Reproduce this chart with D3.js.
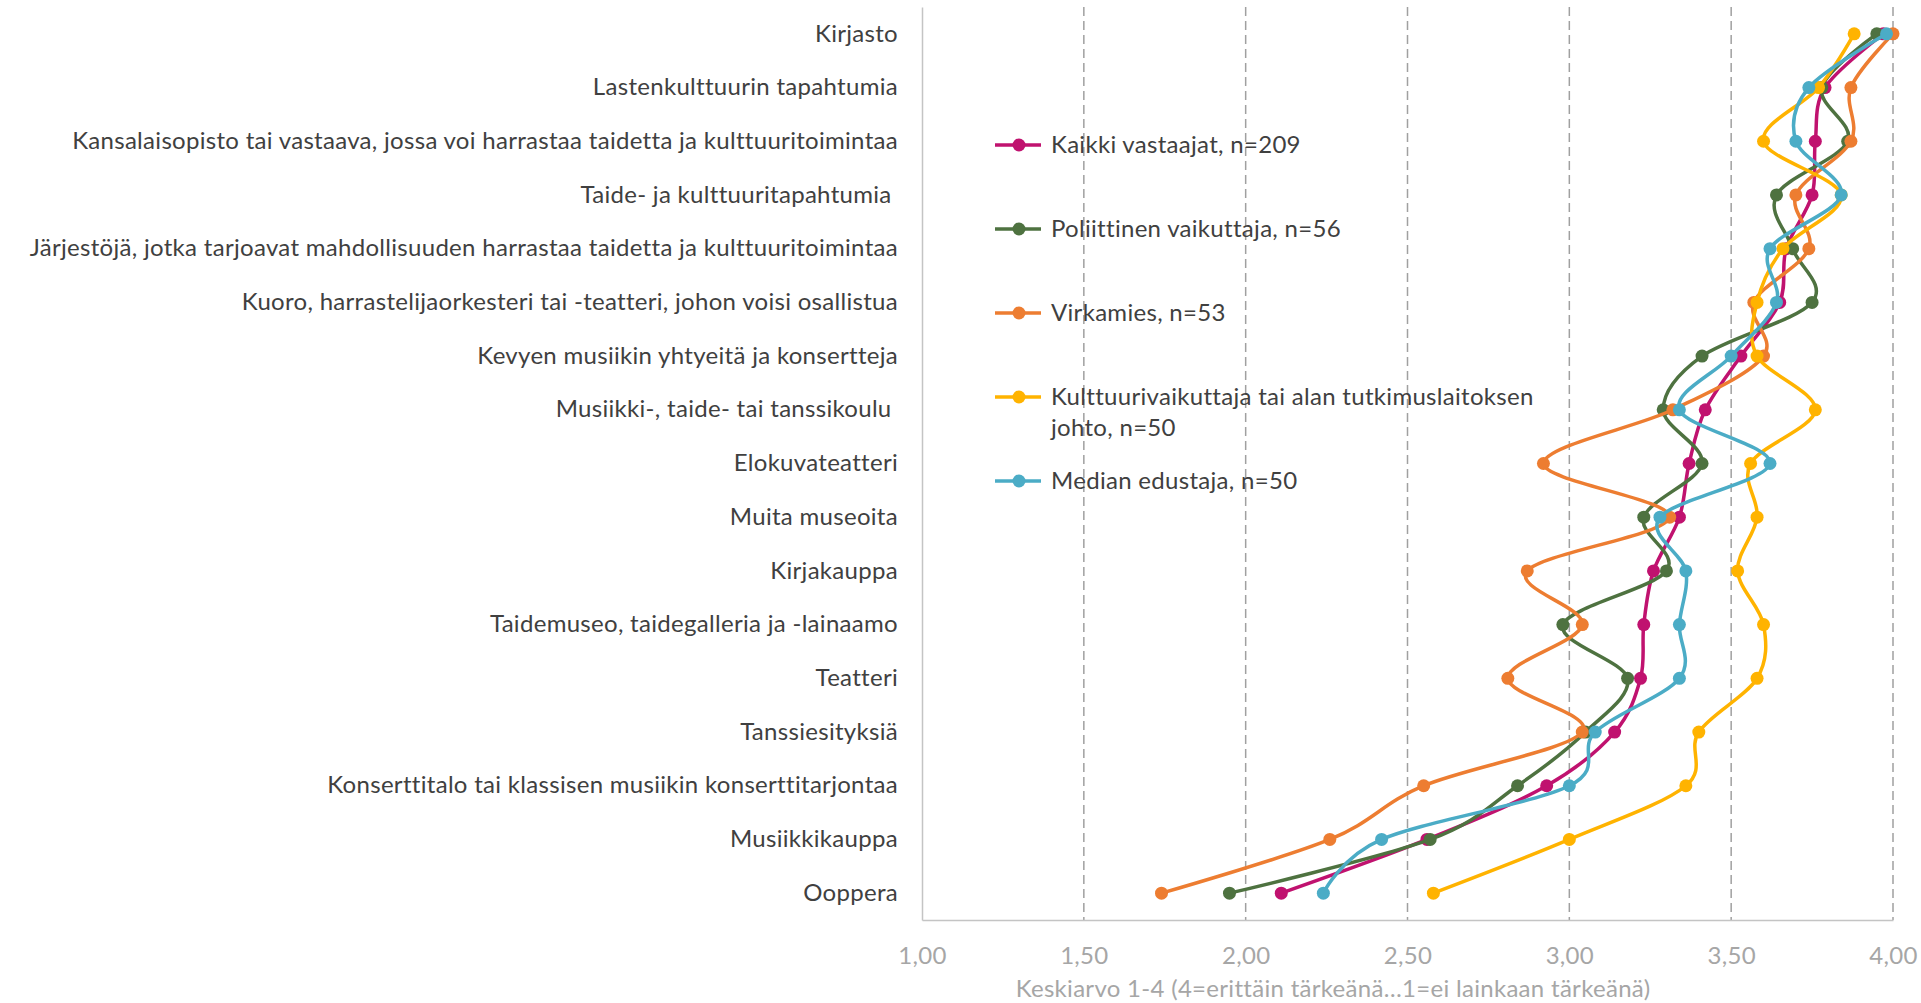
<!DOCTYPE html>
<html lang="fi">
<head>
<meta charset="utf-8">
<title>Kulttuuripalvelujen tärkeys</title>
<script src="https://cdn.jsdelivr.net/npm/d3@7"></script>
<style>
	body { margin: 0; background: #fff; }
	svg text { font-family: Lato, "Open Sans", sans-serif; letter-spacing: 0.3px; }
</style>
</head>
<body>
<script>
// categories, top to bottom
var categories = [
	"Kirjasto",
	"Lastenkulttuurin tapahtumia",
	"Kansalaisopisto tai vastaava, jossa voi harrastaa taidetta ja kulttuuritoimintaa",
	"Taide- ja kulttuuritapahtumia ",
	"Järjestöjä, jotka tarjoavat mahdollisuuden harrastaa taidetta ja kulttuuritoimintaa",
	"Kuoro, harrastelijaorkesteri tai -teatteri, johon voisi osallistua",
	"Kevyen musiikin yhtyeitä ja konsertteja",
	"Musiikki-, taide- tai tanssikoulu ",
	"Elokuvateatteri",
	"Muita museoita",
	"Kirjakauppa",
	"Taidemuseo, taidegalleria ja -lainaamo",
	"Teatteri",
	"Tanssiesityksiä",
	"Konserttitalo tai klassisen musiikin konserttitarjontaa",
	"Musiikkikauppa",
	"Ooppera"
];

// series values (keskiarvo 1-4), same order as categories
var kaikki      = [3.97, 3.79, 3.76, 3.75, 3.67, 3.65, 3.53, 3.42, 3.37, 3.34, 3.26, 3.23, 3.22, 3.14, 2.93, 2.56, 2.11];
var poliittinen = [3.95, 3.78, 3.86, 3.64, 3.69, 3.75, 3.41, 3.29, 3.41, 3.23, 3.30, 2.98, 3.18, 3.05, 2.84, 2.57, 1.95];
var virkamies   = [4.00, 3.87, 3.87, 3.70, 3.74, 3.57, 3.60, 3.32, 2.92, 3.31, 2.87, 3.04, 2.81, 3.04, 2.55, 2.26, 1.74];
var kulttuuri   = [3.88, 3.77, 3.60, 3.84, 3.66, 3.58, 3.58, 3.76, 3.56, 3.58, 3.52, 3.60, 3.58, 3.40, 3.36, 3.00, 2.58];
var media       = [3.98, 3.74, 3.70, 3.84, 3.62, 3.64, 3.50, 3.34, 3.62, 3.28, 3.36, 3.34, 3.34, 3.08, 3.00, 2.42, 2.24];

// legend labels (one entry per line of text)
var seriesLabels = [
	["Kaikki vastaajat, n=209"],
	["Poliittinen vaikuttaja, n=56"],
	["Virkamies, n=53"],
	["Kulttuurivaikuttaja tai alan tutkimuslaitoksen", "johto, n=50"],
	["Median edustaja, n=50"]
];
var seriesColors = ["#c0126f", "#4e7240", "#ed7d31", "#ffb300", "#4bacc6"];

var xTicks = [1, 1.5, 2, 2.5, 3, 3.5, 4];
var axisTitle = "Keskiarvo 1-4 (4=erittäin tärkeänä…1=ei lainkaan tärkeänä)";

var allSeries = [kaikki, poliittinen, virkamies, kulttuuri, media];

//Width and height of svg
var w = 1921;
var h = 1003;
var margin = {top: 7, right: 28, bottom: 83, left: 922};
var r = 6.5;
var fontSize = "24px";

var svg = d3.select("body")
	.append("svg")
	.attr("width", w)
	.attr("height", h);

svg.append("rect")
	.attr("width", w)
	.attr("height", h)
	.attr("fill", "#fff");

//Create scale functions
var xScale = d3.scaleLinear()
	.domain([1, 4])
	.range([margin.left, w - margin.right]);

var yScale = d3.scaleBand()
	.domain(categories)
	.range([margin.top, h - margin.bottom]);

var yMid = function(c) { return yScale(c) + yScale.bandwidth() / 2; };

// dashed gridlines
svg.append("g")
	.selectAll("line")
	.data(xTicks.slice(1))
	.enter()
	.append("line")
	.attr("x1", function(d) { return xScale(d); })
	.attr("x2", function(d) { return xScale(d); })
	.attr("y1", margin.top)
	.attr("y2", h - margin.bottom)
	.attr("stroke", "#a0a0a0")
	.attr("stroke-width", 1.5)
	.attr("stroke-dasharray", "9,5");

//X axis
var xAxis = d3.axisBottom(xScale)
	.tickValues(xTicks)
	.tickSize(0)
	.tickPadding(27)
	.tickFormat(function(d) { return d3.format(".2f")(d).replace(".", ","); });

var gx = svg.append("g")
	.attr("transform", "translate(0," + (h - margin.bottom) + ")")
	.call(xAxis);
gx.select(".domain").attr("stroke", "#c4c4c4").attr("stroke-width", 1.5);
gx.selectAll("text")
	.attr("fill", "#a6a6a6")
	.attr("font-size", fontSize);

//Y axis (category labels)
var yAxis = d3.axisLeft(yScale)
	.tickSize(0)
	.tickPadding(24);

var gy = svg.append("g")
	.attr("transform", "translate(" + margin.left + ",0)")
	.call(yAxis);
gy.select(".domain").attr("stroke", "#c4c4c4").attr("stroke-width", 1.5);
gy.selectAll("text")
	.attr("fill", "#404040")
	.attr("font-size", fontSize)
	.style("white-space", "pre");

// axis title
svg.append("text")
	.attr("x", 1333)
	.attr("y", 997)
	.attr("text-anchor", "middle")
	.attr("font-size", fontSize)
	.attr("fill", "#a6a6a6")
	.text(axisTitle);

// smoothed lines like excel
var line = d3.line()
	.x(function(d) { return xScale(d.v); })
	.y(function(d) { return yMid(d.c); })
	.curve(d3.curveCardinal.tension(0));

allSeries.forEach(function(values, i) {
	var pts = values.map(function(v, j) { return {c: categories[j], v: v}; });
	var g = svg.append("g");

	g.append("path")
		.attr("d", line(pts))
		.attr("fill", "none")
		.attr("stroke", seriesColors[i])
		.attr("stroke-width", 3.5);

	g.selectAll("circle")
		.data(pts)
		.enter()
		.append("circle")
		.attr("cx", function(d) { return xScale(d.v); })
		.attr("cy", function(d) { return yMid(d.c); })
		.attr("r", r)
		.attr("fill", seriesColors[i]);
});

// legend
var legend = svg.append("g")
	.attr("transform", "translate(995,145)");

var entries = legend.selectAll("g")
	.data(seriesLabels)
	.enter()
	.append("g")
	.attr("transform", function(d, i) { return "translate(0," + (i * 84) + ")"; });

entries.append("line")
	.attr("x1", 0)
	.attr("x2", 46)
	.attr("stroke", function(d, i) { return seriesColors[i]; })
	.attr("stroke-width", 3.5);

entries.append("circle")
	.attr("cx", 24)
	.attr("r", r)
	.attr("fill", function(d, i) { return seriesColors[i]; });

entries.append("text")
	.attr("x", 56)
	.attr("font-size", fontSize)
	.attr("fill", "#404040")
	.selectAll("tspan")
	.data(function(d) { return d; })
	.enter()
	.append("tspan")
	.attr("x", 56)
	.attr("y", function(d, i) { return i * 31; })
	.attr("dy", "0.35em")
	.text(function(d) { return d; });
</script>
</body>
</html>
